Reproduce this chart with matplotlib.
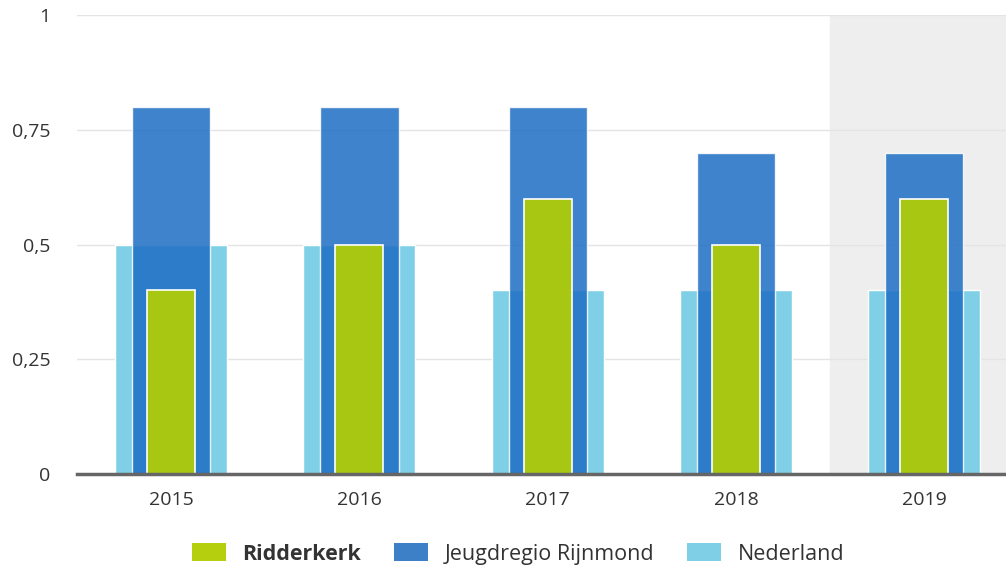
import matplotlib.pyplot as plt
import numpy as np
from matplotlib.ticker import FuncFormatter

years = ["2015", "2016", "2017", "2018", "2019"]
ridderkerk = [0.4, 0.5, 0.6, 0.5, 0.6]
rijnmond = [0.8, 0.8, 0.8, 0.7, 0.7]
nederland = [0.5, 0.5, 0.4, 0.4, 0.4]

plt.rcParams["font.family"] = ["Open Sans", "DejaVu Sans"]

fig = plt.figure(figsize=(10.06, 5.68), dpi=100)
ax = fig.add_axes([77 / 1006, 94 / 568, 929 / 1006, 459 / 568])

x = np.arange(len(years))
# the last category runs past the right edge of the figure
xmax = 929 / 188.3 - 0.5
ax.axvspan(3.5, xmax, color="#eeeeee", zorder=0)

ax.bar(x, nederland, width=0.595, color="#7fd0e6", edgecolor="white", linewidth=1,
       zorder=2, label="Nederland")
ax.bar(x, rijnmond, width=0.415, color="#1f6fc5", alpha=0.86, edgecolor="white",
       linewidth=1, zorder=3, label="Jeugdregio Rijnmond")
ax.bar(x, ridderkerk, width=0.255, color="#a8c712", edgecolor="white", linewidth=1.2,
       zorder=4, label="Ridderkerk")

ax.set_xlim(-0.5, xmax)
ax.set_ylim(0, 1)
ax.set_yticks([0, 0.25, 0.5, 0.75, 1])
ax.yaxis.set_major_formatter(FuncFormatter(lambda v, p: f"{v:g}".replace(".", ",")))
ax.set_xticks(x)
ax.set_xticklabels(years)
ax.grid(axis="y", color="#e4e4e4", linewidth=1, zorder=1)
ax.set_axisbelow(True)
for s in ["top", "right", "left"]:
    ax.spines[s].set_visible(False)
ax.spines["bottom"].set_color("#666666")
ax.spines["bottom"].set_linewidth(2.5)
ax.spines["bottom"].set_zorder(5)
ax.tick_params(axis="both", length=0, labelsize=14, colors="#333333")
ax.tick_params(axis="y", pad=19)
ax.tick_params(axis="x", pad=12)

handles, labels = ax.get_legend_handles_labels()
order = [2, 1, 0]
handles = [handles[i] for i in order]
labels = [labels[i] for i in order]
leg = fig.legend(handles, labels, loc="center", bbox_to_anchor=(518 / 1006, 1 - 554 / 568),
                 ncol=3, frameon=False, fontsize=15.5, handlelength=1.58, handleheight=0.9,
                 columnspacing=1.55, handletextpad=0.75)
for t in leg.get_texts():
    t.set_color("#333333")
leg.get_texts()[0].set_fontweight("bold")
for h in leg.legend_handles:
    h.set_alpha(1)
    h.set_edgecolor("none")
leg.legend_handles[0].set_facecolor("#b5cf0f")
leg.legend_handles[1].set_facecolor("#3d80c8")

fig.savefig("out.png", dpi=100)
